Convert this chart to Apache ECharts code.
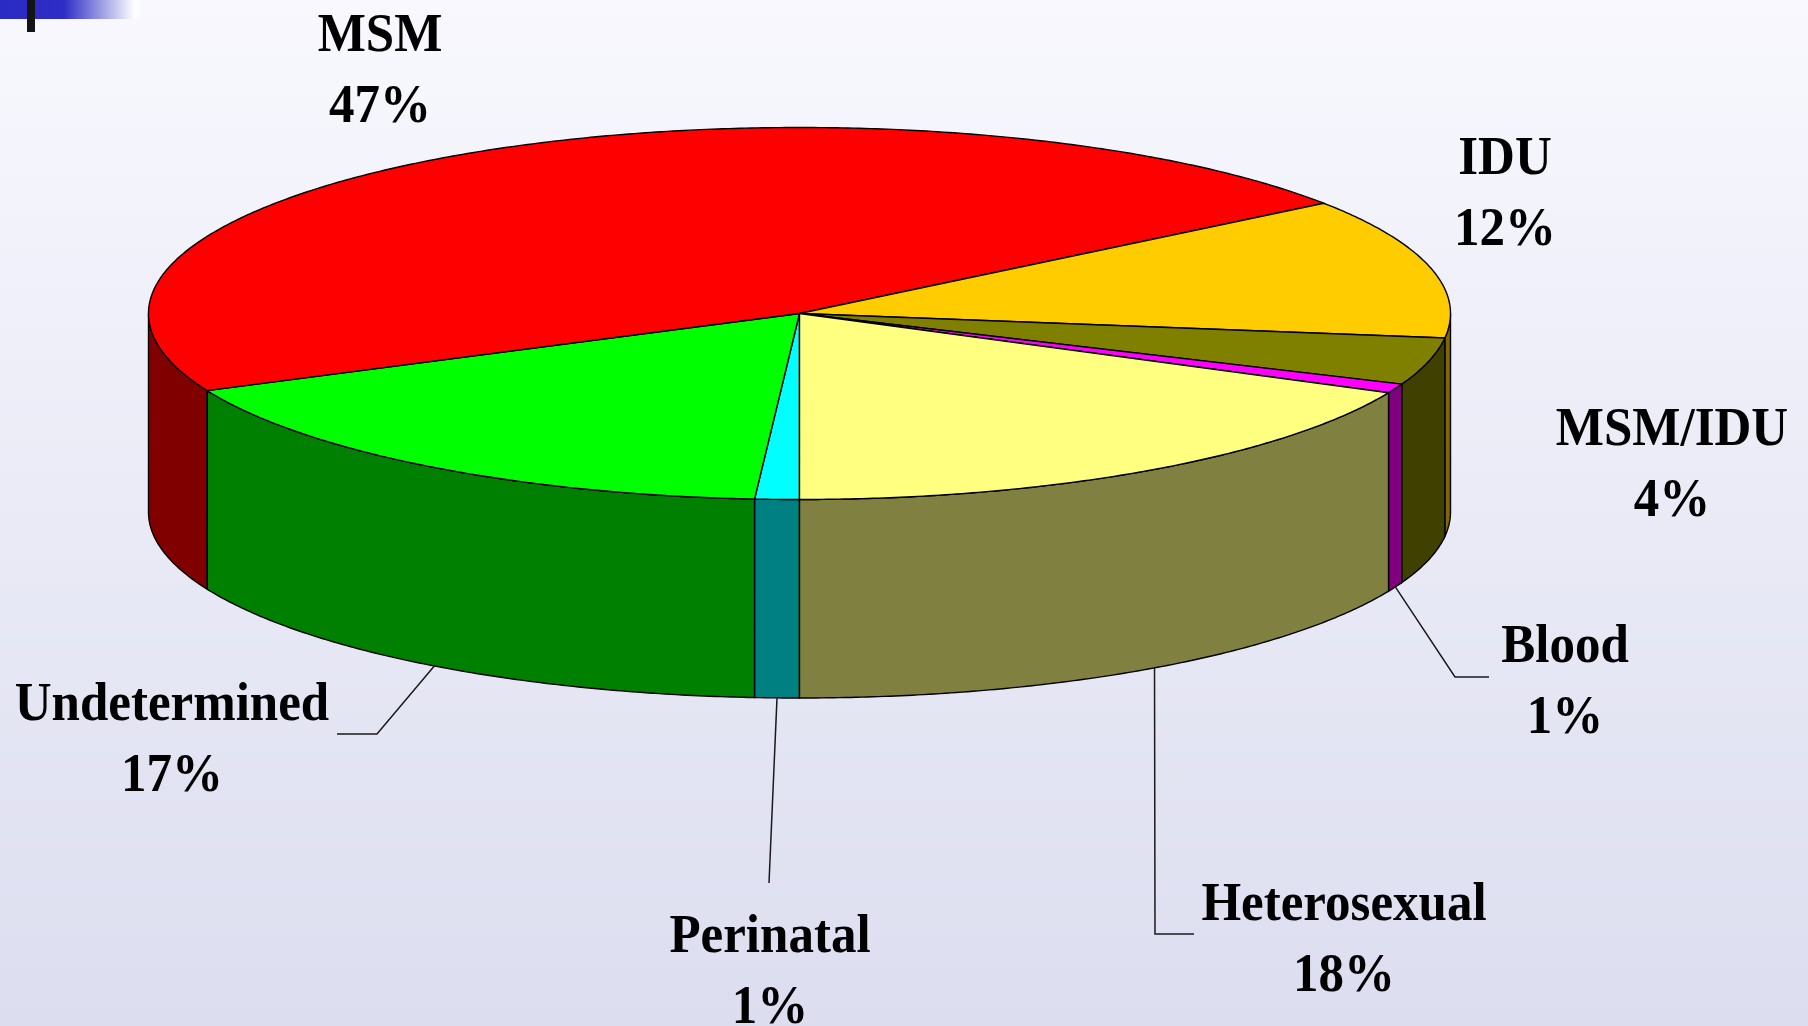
<!DOCTYPE html>
<html>
<head>
<meta charset="utf-8">
<style>html,body{margin:0;padding:0;width:100%;height:100%;overflow:hidden}#chart{width:1808px;height:1026px}</style>
<script src="https://cdn.jsdelivr.net/npm/echarts@6/dist/echarts.min.js"></script>
</head>
<body>
<div id="chart"></div>
<script>
// Data, clockwise from the front of the pie (shares; labels show them rounded)
const categories = ['Perinatal', 'Undetermined', 'MSM', 'IDU', 'MSM/IDU', 'Blood', 'Heterosexual'];
const shares = [1.1, 17.1, 46.7, 12.2, 4.1, 0.8, 18.0];

// Styles
const topColors = ['#00FFFF', '#00FF00', '#FF0000', '#FFCC00', '#808000', '#FF00FF', '#FFFF80'];
const sideColors = ['#008080', '#008000', '#800000', '#806600', '#404000', '#800080', '#808040'];

// Layout
const CX = 799.5, CY = 313.5, RX = 651, RY = 186, DEPTH = 198.5;
const START_ANGLE = 90;
const labelCentres = [[770, 973], [172, 741], [380, 72], [1505, 195], [1672, 466], [1565, 683], [1344, 941]];
const leaderAt = [0.5, 0.49, 0.5, 0.5, 0.5, 0.5, 0.49];
const leaderBends = [
  [[769, 883]],
  [[377, 734], [337, 734]],
  [],
  [],
  [],
  [[1455, 677], [1489, 677]],
  [[1155, 934], [1194, 934]]
];

const total = shares.reduce((a, b) => a + b, 0);
const startAngles = [];
shares.reduce((acc, v, i) => { startAngles[i] = acc; return acc + v / total * 360; }, START_ANGLE);

function rim(deg, drop) {
  const t = deg * Math.PI / 180;
  return [CX + RX * Math.cos(t), CY + drop + RY * Math.sin(t)];
}
function arc(a, b, drop) {
  const n = Math.max(2, Math.ceil(Math.abs(b - a) * 2));
  const pts = [];
  for (let k = 0; k <= n; k++) pts.push(rim(a + (b - a) * k / n, drop));
  return pts;
}

function renderItem(params, api) {
  const i = params.dataIndex;
  const a0 = startAngles[i];
  const a1 = a0 + api.value(1) / total * 360;
  const children = [];

  // Front-facing wall: screen-lower half of the rim only
  [[0, 180], [360, 540]].forEach(function (win) {
    const s = Math.max(a0, win[0]), e = Math.min(a1, win[1]);
    if (e > s) {
      children.push({
        type: 'polygon', z2: 1, silent: true,
        shape: { points: arc(s, e, 0).concat(arc(e, s, DEPTH)) },
        style: { fill: sideColors[i], stroke: '#000', lineWidth: 1.4 }
      });
    }
  });

  // Top face
  children.push({
    type: 'polygon', z2: 2, silent: true,
    shape: { points: [[CX, CY]].concat(arc(a0, a1, 0)) },
    style: { fill: topColors[i], stroke: '#000', lineWidth: 1.4 }
  });

  // Leader line from the bottom rim of the slice
  if (leaderBends[i].length) {
    children.push({
      type: 'polyline', z2: 3, silent: true,
      shape: { points: [rim(a0 + (a1 - a0) * leaderAt[i], DEPTH)].concat(leaderBends[i]) },
      style: { fill: null, stroke: '#1a1a1a', lineWidth: 1.5 }
    });
  }

  // Label
  children.push({
    type: 'text', z2: 4, silent: true,
    x: labelCentres[i][0], y: labelCentres[i][1], scaleY: 1.08,
    style: {
      text: categories[i] + '\n' + Math.round(api.value(1)) + '%',
      font: 'bold 51px "Liberation Serif", "Times New Roman", serif',
      fill: '#000', align: 'center', verticalAlign: 'middle', lineHeight: 66
    }
  });
  return { type: 'group', children: children };
}

const chart = echarts.init(document.getElementById('chart'), null, { renderer: 'canvas' });
chart.setOption({
  animation: false,
  backgroundColor: new echarts.graphic.LinearGradient(0, 0, 0, 1, [
    { offset: 0, color: '#F8F8FE' },
    { offset: 1, color: '#DCDDEF' }
  ]),
  graphic: [
    {
      type: 'rect', shape: { x: 0, y: 0, width: 142, height: 19 }, silent: true,
      style: {
        fill: new echarts.graphic.LinearGradient(0, 0, 1, 0, [
          { offset: 0, color: '#2A2AC4' },
          { offset: 0.45, color: '#2E2EC6' },
          { offset: 0.95, color: '#FFFFFF' },
          { offset: 1, color: '#F8F8FE' }
        ])
      }
    },
    { type: 'rect', shape: { x: 27, y: 0, width: 8, height: 32 }, silent: true, style: { fill: '#141414' } }
  ],
  series: [{
    type: 'custom',
    coordinateSystem: 'none',
    renderItem: renderItem,
    data: shares.map(function (v, i) { return [i, v]; })
  }]
});
</script>
</body>
</html>
